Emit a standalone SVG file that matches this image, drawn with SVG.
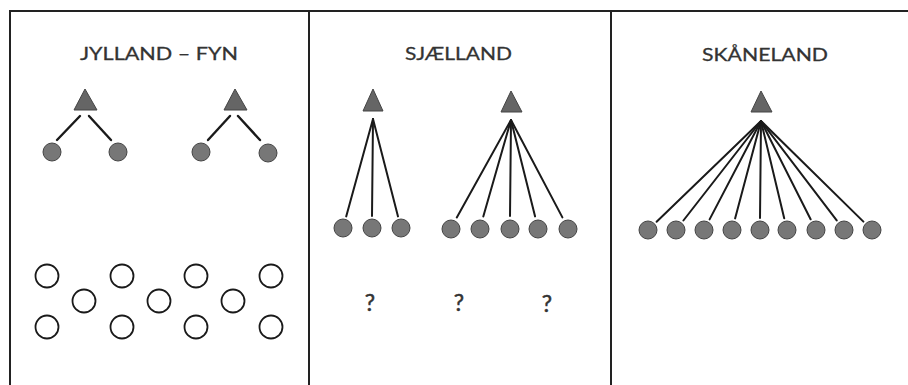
<svg xmlns="http://www.w3.org/2000/svg" width="908" height="385" viewBox="0 0 908 385">
<style>
.frame{fill:none;stroke:#222;stroke-width:2}
.tri{fill:#656565;stroke:#444;stroke-width:1}
.dot{fill:#777;stroke:#444;stroke-width:1}
.ring{fill:none;stroke:#1a1a1a;stroke-width:1.8}
.con{stroke:#1a1a1a;stroke-width:2;stroke-linecap:round;fill:none}
.con1{stroke-width:2.4}
.title{font-family:Lato,"Liberation Sans",sans-serif;font-size:18px;fill:#333;stroke:#333;stroke-width:0.3;text-anchor:middle}
.q{font-family:Lato,"Liberation Sans",sans-serif;font-size:23px;fill:#333;stroke:#333;stroke-width:0.5;text-anchor:middle}
</style>
<rect width="908" height="385" fill="#fff"/>
<g id="frame">
<path class="frame" d="M10,385 V11 H908 M309,11 V385 M611,11 V385"/>
</g>
<g id="titles">
<text class="title" x="159" y="60" textLength="158" lengthAdjust="spacingAndGlyphs">JYLLAND – FYN</text>
<text class="title" x="458.5" y="60" textLength="107" lengthAdjust="spacingAndGlyphs">SJÆLLAND</text>
<text class="title" x="765" y="61" textLength="126" lengthAdjust="spacingAndGlyphs">SKÅNELAND</text>
</g>
<g id="connectors">
<line class="con con1" x1="80" y1="116" x2="57" y2="140"/>
<line class="con con1" x1="89" y1="116" x2="111" y2="140"/>
<line class="con con1" x1="230" y1="116" x2="208" y2="140"/>
<line class="con con1" x1="238" y1="116" x2="260" y2="140"/>
<line class="con" x1="373" y1="119" x2="346.2" y2="216.4"/>
<line class="con" x1="373" y1="119" x2="372" y2="216"/>
<line class="con" x1="373" y1="119" x2="398" y2="216.4"/>
<line class="con" x1="511" y1="120" x2="456.8" y2="217.5"/>
<line class="con" x1="511" y1="120" x2="483.3" y2="216.5"/>
<line class="con" x1="511" y1="120" x2="510" y2="216"/>
<line class="con" x1="511" y1="120" x2="535.1" y2="216.4"/>
<line class="con" x1="511" y1="120" x2="562.4" y2="217.4"/>
<line class="con" x1="761" y1="121" x2="656.6" y2="221.7"/>
<line class="con" x1="761" y1="121" x2="683.4" y2="220.5"/>
<line class="con" x1="761" y1="121" x2="709.6" y2="219.4"/>
<line class="con" x1="761" y1="121" x2="735.1" y2="218.4"/>
<line class="con" x1="761" y1="121" x2="760" y2="218"/>
<line class="con" x1="761" y1="121" x2="784.2" y2="218.3"/>
<line class="con" x1="761" y1="121" x2="810.6" y2="219.3"/>
<line class="con" x1="761" y1="121" x2="836.7" y2="220.4"/>
<line class="con" x1="761" y1="121" x2="863.4" y2="221.6"/>
</g>
<g id="jf-tri1"><polygon class="tri" points="85,89 74,110 97,110"/></g>
<g id="jf-tri2"><polygon class="tri" points="235,89 224,110 247,110"/></g>
<g id="jf-dot1"><circle class="dot" cx="52" cy="152" r="9"/></g>
<g id="jf-dot2"><circle class="dot" cx="118" cy="152" r="9"/></g>
<g id="jf-dot3"><circle class="dot" cx="201" cy="152" r="9"/></g>
<g id="jf-dot4"><circle class="dot" cx="268" cy="153" r="9"/></g>
<g id="jf-rings">
<circle class="ring" cx="47" cy="276" r="11.5"/>
<circle class="ring" cx="122" cy="276" r="11.5"/>
<circle class="ring" cx="196" cy="276" r="11.5"/>
<circle class="ring" cx="271" cy="276" r="11.5"/>
<circle class="ring" cx="84" cy="301" r="11.5"/>
<circle class="ring" cx="159" cy="301" r="11.5"/>
<circle class="ring" cx="233" cy="301" r="11.5"/>
<circle class="ring" cx="47" cy="327" r="11.5"/>
<circle class="ring" cx="122" cy="327" r="11.5"/>
<circle class="ring" cx="196" cy="327" r="11.5"/>
<circle class="ring" cx="271" cy="327" r="11.5"/>
</g>
<g id="sj-tri1"><polygon class="tri" points="373,89 363,111 383,111"/></g>
<g id="sj-tri2"><polygon class="tri" points="511,91 501,112 522,112"/></g>
<g id="sj-dots1">
<circle class="dot" cx="343" cy="228" r="9"/>
<circle class="dot" cx="372" cy="228" r="9"/>
<circle class="dot" cx="401" cy="228" r="9"/>
</g>
<g id="sj-dots2">
<circle class="dot" cx="451" cy="229" r="9"/>
<circle class="dot" cx="480" cy="229" r="9"/>
<circle class="dot" cx="510" cy="229" r="9"/>
<circle class="dot" cx="538" cy="229" r="9"/>
<circle class="dot" cx="568" cy="229" r="9"/>
</g>
<g id="sj-q">
<text class="q" x="370" y="311">?</text>
<text class="q" x="459" y="311">?</text>
<text class="q" x="547" y="312">?</text>
</g>
<g id="sk-tri"><polygon class="tri" points="761,91 751,112 772,112"/></g>
<g id="sk-dots">
<circle class="dot" cx="648" cy="230" r="9"/>
<circle class="dot" cx="676" cy="230" r="9"/>
<circle class="dot" cx="704" cy="230" r="9"/>
<circle class="dot" cx="732" cy="230" r="9"/>
<circle class="dot" cx="760" cy="230" r="9"/>
<circle class="dot" cx="787" cy="230" r="9"/>
<circle class="dot" cx="816" cy="230" r="9"/>
<circle class="dot" cx="844" cy="230" r="9"/>
<circle class="dot" cx="872" cy="230" r="9"/>
</g>
</svg>
